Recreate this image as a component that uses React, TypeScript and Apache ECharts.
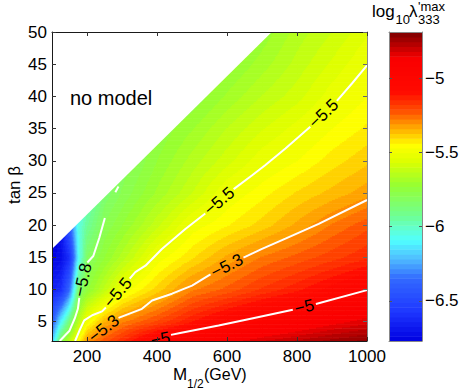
import React, { useEffect, useRef } from 'react';
import * as echarts from 'echarts';

const FONT = '"Liberation Sans", Arial, Helvetica, sans-serif';

// ---- data ----
const m12Grid = [100, 125, 150, 175, 200, 250, 300, 350, 400, 500, 600, 700, 800, 900, 1000];
const tanBetaGrid = [2, 5, 10, 15, 20, 25, 30, 35, 40, 45, 50];
const logLambdaT02 = [-6.2, -5.8, -5.62, -5.45, -5.3, -5.22, -5.15, -5.07, -5.0, -4.93, -4.87, -4.82, -4.78, -4.74, -4.71];
const logLambdaT05 = [-6.4, -6.1, -5.86, -5.64, -5.48, -5.34, -5.28, -5.24, -5.2, -5.11, -5.03, -4.97, -4.92, -4.87, -4.83];
const logLambdaT10 = [-6.65, -6.6, -6.35, -5.85, -5.74, -5.62, -5.5, -5.44, -5.39, -5.28, -5.23, -5.17, -5.12, -5.06, -5.0];
const logLambdaT15 = [-6.75, -6.72, -6.6, -6.1, -5.82, -5.73, -5.65, -5.57, -5.49, -5.41, -5.33, -5.27, -5.23, -5.19, -5.15];
const logLambdaT20 = [-6.8, -6.7, -6.4, -6.05, -5.93, -5.79, -5.73, -5.67, -5.61, -5.49, -5.44, -5.39, -5.33, -5.27, -5.22];
const logLambdaT25 = [-6.7, -6.5, -6.3, -6.1, -6.0, -5.85, -5.79, -5.74, -5.69, -5.6, -5.5, -5.45, -5.4, -5.36, -5.32];
const logLambdaT30 = [-6.5, -6.3, -6.1, -6.0, -5.95, -5.87, -5.82, -5.78, -5.73, -5.65, -5.58, -5.51, -5.47, -5.42, -5.38];
const logLambdaT35 = [-6.5, -6.3, -6.1, -6.0, -5.95, -5.88, -5.84, -5.8, -5.76, -5.7, -5.63, -5.57, -5.52, -5.47, -5.43];
const logLambdaT40 = [-6.5, -6.3, -6.1, -6.0, -5.95, -5.9, -5.86, -5.83, -5.8, -5.76, -5.69, -5.63, -5.58, -5.515, -5.47];
const logLambdaT45 = [-6.5, -6.3, -6.1, -6.0, -5.95, -5.9, -5.87, -5.85, -5.83, -5.8, -5.74, -5.68, -5.62, -5.56, -5.5];
const logLambdaT50 = [-6.5, -6.3, -6.1, -6.0, -5.95, -5.9, -5.88, -5.86, -5.85, -5.82, -5.78, -5.72, -5.65, -5.6, -5.54];
const logLambdaRows = [logLambdaT02, logLambdaT05, logLambdaT10, logLambdaT15, logLambdaT20, logLambdaT25,
  logLambdaT30, logLambdaT35, logLambdaT40, logLambdaT45, logLambdaT50];

const noModelBoundary = [[100, 16.3], [728, 50], [100, 50]];

// contour lines (M, tan beta), split where the labels sit
const contour58a = [[122, 2], [150, 3.6], [165, 5.5], [174, 7], [178, 8.7]];
const contour58b = [[201, 14.2], [218, 15.2], [235, 18], [251, 21.1]];
const contour58c = [[281, 25.1], [290, 26]];
const contour55a = [[166, 2], [180, 3.8], [192, 5.2], [215, 6.0], [243, 6.6], [254, 7.2]];
const contour55b = [[322, 11.7], [338, 12.7], [367, 13.7], [414, 16.3], [481, 19.4], [538, 21.8]];
const contour55c = [[619, 25.6], [671, 27.7], [709, 29.3], [767, 31.9], [838, 35.3]];
const contour55d = [[914, 39.3], [957, 42], [1000, 44.8]];
const contour53b = [[290, 5.6], [357, 7.0], [386, 8.3], [443, 9.35], [500, 10.6], [548, 12.2], [553, 12.35]];
const contour53c = [[647, 14.95], [700, 16.3], [767, 17.9], [862, 20.2], [1000, 23.9]];
const contour50a = [[440, 2.95], [466, 3.25], [576, 4.4], [671, 5.5], [788, 6.85]];
const contour50b = [[854, 7.75], [1000, 9.9]];
const contourSegments = [contour58a, contour58b, contour58c, contour55a, contour55b, contour55c, contour55d,
  contour53b, contour53c, contour50a, contour50b];

const contourLabelText = ['\u22125.8', '\u22125.5', '\u22125.5', '\u22125.5', '\u22125.3', '\u22125.3', '\u22125', '\u22125'];
const contourLabelM = [188, 288, 578, 876, 248, 600, 821, 410];
const contourLabelT = [11.5, 9.5, 23.7, 37.3, 3.9, 13.65, 7.3, 2.3];
const contourLabelAngle = [78, 50, 40, 44, 38, 27, 14, 11];

const xTicks = [200, 400, 600, 800, 1000];
const yTicks = [5, 10, 15, 20, 25, 30, 35, 40, 45, 50];
const cbTicks = [-6.5, -6, -5.5, -5];
const cbMin = -6.77;
const cbMax = -4.69;
const nLevels = 64;

// colour map: [value, r, g, b]
const cmapStops = [
  [-6.77, 0, 0, 225], [-6.57, 30, 55, 255], [-6.35, 50, 105, 255], [-6.21, 80, 190, 255],
  [-6.09, 80, 255, 255], [-6.0, 100, 255, 200], [-5.93, 110, 255, 150], [-5.72, 150, 255, 50],
  [-5.56, 220, 255, 0], [-5.45, 255, 255, 0], [-5.32, 255, 160, 0], [-5.22, 255, 80, 0],
  [-5.09, 255, 10, 0], [-4.87, 250, 0, 0], [-4.69, 125, 0, 0],
];

function cmap(v: number): string {
  if (v <= cmapStops[0][0]) { const s = cmapStops[0]; return `rgb(${s[1]},${s[2]},${s[3]})`; }
  for (let i = 1; i < cmapStops.length; i++) {
    const a = cmapStops[i - 1], b = cmapStops[i];
    if (v <= b[0]) {
      const f = (v - a[0]) / (b[0] - a[0]);
      const r = Math.round(a[1] + f * (b[1] - a[1]));
      const g = Math.round(a[2] + f * (b[2] - a[2]));
      const bl = Math.round(a[3] + f * (b[3] - a[3]));
      return `rgb(${r},${g},${bl})`;
    }
  }
  const s = cmapStops[cmapStops.length - 1];
  return `rgb(${s[1]},${s[2]},${s[3]})`;
}

const step = (cbMax - cbMin) / nLevels;
const levelColor: string[] = [];
for (let k = 0; k < nLevels; k++) levelColor.push(cmap(cbMin + (k + 0.5) * step));
function levelOf(v: number): number {
  let k = Math.floor((v - cbMin) / step);
  if (k < 0) k = 0;
  if (k > nLevels - 1) k = nLevels - 1;
  return k;
}

const fmtMinus = (v: number) => String(v).replace('-', '\u2212');
const fmtPlain = (v: number) => String(v);

export default function App() {
  const ref = useRef<HTMLDivElement>(null);
  useEffect(() => {
    if (!ref.current) return;
    const chart = echarts.init(ref.current, null, { renderer: 'svg' });

    const fieldCells: number[][] = [];
    for (let j = 0; j < tanBetaGrid.length - 1; j++) {
      for (let i = 0; i < m12Grid.length - 1; i++) {
        fieldCells.push([m12Grid[i], tanBetaGrid[j], m12Grid[i + 1], tanBetaGrid[j + 1],
          logLambdaRows[j][i], logLambdaRows[j][i + 1], logLambdaRows[j + 1][i], logLambdaRows[j + 1][i + 1]]);
      }
    }
    const cbLevels: number[][] = [];
    for (let k = 0; k < nLevels; k++) cbLevels.push([0, 1, cbMin + k * step, cbMin + (k + 1) * step, k]);

    const labelData = contourLabelText.map((_, i) => [contourLabelM[i], contourLabelT[i], contourLabelAngle[i], i]);

    const axisLineDark = { show: true, onZero: false, lineStyle: { color: '#1a1a1a', width: 1 } };
    const axisLineGray = { show: true, onZero: false, lineStyle: { color: '#888', width: 1 } };
    const labelStyle = { fontSize: 17, color: '#000', fontFamily: FONT };

    const lineSeries = contourSegments.map((seg) => ({
      type: 'line', xAxisIndex: 0, yAxisIndex: 0, data: seg, symbol: 'none', smooth: false,
      lineStyle: { color: '#ffffff', width: 2 }, z: 5, silent: true, clip: true,
    }));

    const txt = (x: number, y: number, text: string, fontSize: number, extra: any = {}) => ({
      type: 'text', x, y, z: 20, ...extra,
      style: { text, fontSize, fontFamily: FONT, fill: '#000', align: 'left', verticalAlign: 'middle', ...(extra.style || {}) },
    });

    const option: any = {
      animation: false,
      grid: [
        { left: 52, top: 32, width: 315, height: 309, show: false },
        { left: 389, top: 32, width: 33, height: 309, show: false },
      ],
      xAxis: [
        {
          gridIndex: 0, type: 'value', min: 100, max: 1000, position: 'bottom', z: 10,
          axisLine: axisLineDark,
          axisTick: { show: true, inside: true, length: 4, customValues: xTicks, lineStyle: { color: '#333' } },
          axisLabel: { ...labelStyle, customValues: xTicks, margin: 7, formatter: fmtPlain },
          splitLine: { show: false },
        },
        {
          gridIndex: 0, type: 'value', min: 100, max: 1000, position: 'top', z: 10,
          axisLine: axisLineDark,
          axisTick: { show: true, inside: true, length: 4, customValues: xTicks, lineStyle: { color: '#333' } },
          axisLabel: { show: false }, splitLine: { show: false },
        },
        {
          gridIndex: 1, type: 'value', min: 0, max: 1, position: 'bottom', z: 10,
          axisLine: axisLineGray, axisTick: { show: false }, axisLabel: { show: false }, splitLine: { show: false },
        },
        {
          gridIndex: 1, type: 'value', min: 0, max: 1, position: 'top', z: 10,
          axisLine: axisLineGray, axisTick: { show: false }, axisLabel: { show: false }, splitLine: { show: false },
        },
      ],
      yAxis: [
        {
          gridIndex: 0, type: 'value', min: 2, max: 50, position: 'left', z: 10,
          axisLine: axisLineDark,
          axisTick: { show: true, inside: true, length: 4, customValues: yTicks, lineStyle: { color: '#333' } },
          axisLabel: { ...labelStyle, customValues: yTicks, margin: 5, formatter: fmtPlain },
          splitLine: { show: false },
        },
        {
          gridIndex: 0, type: 'value', min: 2, max: 50, position: 'right', z: 10,
          axisLine: axisLineGray,
          axisTick: { show: true, inside: true, length: 4, customValues: yTicks, lineStyle: { color: '#666' } },
          axisLabel: { show: false }, splitLine: { show: false },
        },
        {
          gridIndex: 1, type: 'value', min: cbMin, max: cbMax, position: 'right', z: 10,
          axisLine: axisLineGray,
          axisTick: { show: true, inside: true, length: 3, customValues: cbTicks, lineStyle: { color: '#555' } },
          axisLabel: { ...labelStyle, customValues: cbTicks, margin: 3, formatter: fmtMinus },
          splitLine: { show: false },
        },
        {
          gridIndex: 1, type: 'value', min: cbMin, max: cbMax, position: 'left', z: 10,
          axisLine: axisLineGray,
          axisTick: { show: true, inside: true, length: 3, customValues: cbTicks, lineStyle: { color: '#555' } },
          axisLabel: { show: false }, splitLine: { show: false },
        },
      ],
      series: [
        {
          type: 'custom', xAxisIndex: 0, yAxisIndex: 0, data: fieldCells, clip: true, silent: true, z: 1,
          encode: { x: [0, 2], y: [1, 3] },
          renderItem: (params: any, api: any) => {
            const m0 = api.value(0), t0 = api.value(1), m1 = api.value(2), t1 = api.value(3);
            const a = api.value(4), b = api.value(5), c = api.value(6), d = api.value(7);
            const p0 = api.coord([m0, t0]);
            const p1 = api.coord([m1, t1]);
            const x0 = p0[0], W = p1[0] - p0[0], yB = p0[1], H = p0[1] - p1[1];
            const nx = Math.max(2, Math.round(W));
            const ny = Math.max(2, Math.round(H / 1.3));
            const bil = (fx: number, fy: number) =>
              a * (1 - fx) * (1 - fy) + b * fx * (1 - fy) + c * (1 - fx) * fy + d * fx * fy;
            const children: any[] = [];
            for (let r = 0; r < ny; r++) {
              const fy = (r + 0.5) / ny;
              const yTop = yB - (r + 1) * H / ny;
              let start = 0;
              let lev = levelOf(bil(0.5 / nx, fy));
              for (let q = 1; q <= nx; q++) {
                const l2 = q < nx ? levelOf(bil((q + 0.5) / nx, fy)) : -1;
                if (l2 !== lev) {
                  children.push({
                    type: 'rect',
                    shape: { x: x0 + start * W / nx, y: yTop, width: (q - start) * W / nx + 0.6, height: H / ny + 0.6 },
                    style: { fill: levelColor[lev] },
                  });
                  start = q;
                  lev = l2;
                }
              }
            }
            return { type: 'group', children };
          },
        },
        {
          type: 'custom', xAxisIndex: 0, yAxisIndex: 0, data: noModelBoundary, clip: true, silent: true, z: 3,
          encode: { x: 0, y: 1 },
          renderItem: (params: any, api: any) => {
            if (params.dataIndex !== 0) return null;
            return {
              type: 'polygon',
              shape: { points: noModelBoundary.map((pt) => api.coord(pt)) },
              style: { fill: '#ffffff' },
            };
          },
        },
        ...lineSeries,
        {
          type: 'custom', xAxisIndex: 0, yAxisIndex: 0, data: labelData, clip: true, silent: true, z: 6,
          encode: { x: 0, y: 1 },
          renderItem: (params: any, api: any) => {
            const p = api.coord([api.value(0), api.value(1)]);
            const ang = api.value(2);
            const idx = api.value(3);
            return {
              type: 'text', x: p[0], y: p[1], rotation: (ang * Math.PI) / 180,
              style: {
                text: contourLabelText[idx], fontSize: 17, fontFamily: FONT, fill: '#000',
                align: 'center', verticalAlign: 'middle',
              },
            };
          },
        },
        {
          type: 'custom', xAxisIndex: 2, yAxisIndex: 2, data: cbLevels, silent: true, z: 1,
          encode: { x: [0, 1], y: [2, 3] },
          renderItem: (params: any, api: any) => {
            const p0 = api.coord([api.value(0), api.value(2)]);
            const p1 = api.coord([api.value(1), api.value(3)]);
            return {
              type: 'rect',
              shape: { x: p0[0], y: p1[1], width: p1[0] - p0[0], height: p0[1] - p1[1] + 0.6 },
              style: { fill: levelColor[api.value(4)] },
            };
          },
        },
      ],
      graphic: [
        txt(70, 98, 'no model', 20),
        txt(14, 185, 'tan \u03b2', 17, { rotation: Math.PI / 2, style: { align: 'center' } }),
        txt(173, 374, 'M', 17),
        txt(187, 383.5, '1/2', 12),
        txt(204, 374, '(GeV)', 16),
        txt(372, 11, 'log', 17),
        txt(395.5, 19, '10', 13),
        txt(409, 11, '\u03bb', 17),
        txt(418, 6, "'max", 13, { style: { lineHeight: 11 } }),
        txt(418, 19.5, '333', 13, { style: { lineHeight: 11 } }),
      ],
    };
    chart.setOption(option);
    return () => chart.dispose();
  }, []);
  return <div ref={ref} style={{ position: 'absolute', left: 0, top: 0, width: 463, height: 389, background: '#fff' }} />;
}
